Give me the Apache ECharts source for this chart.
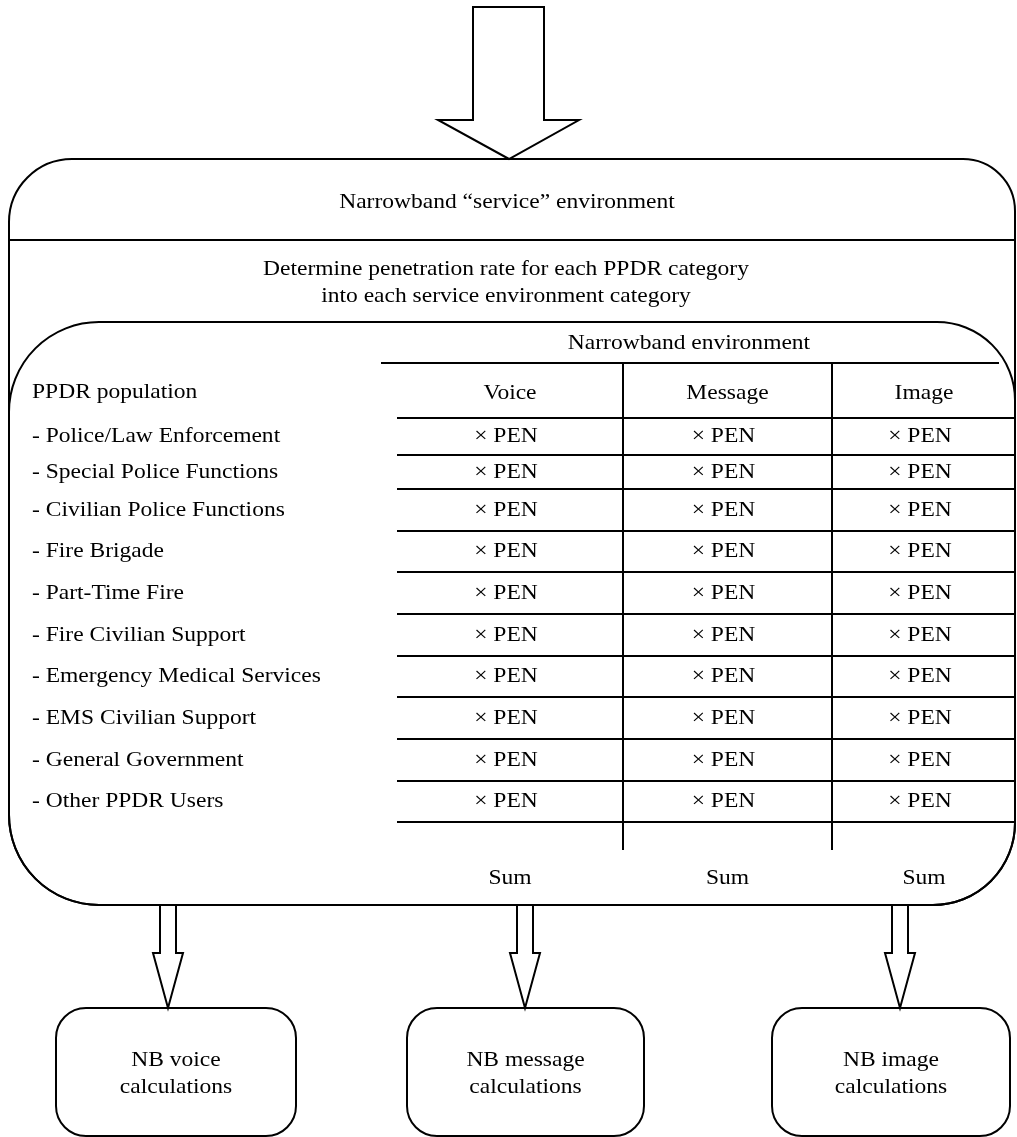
<!DOCTYPE html>
<html>
<head>
<meta charset="utf-8">
<script src="https://cdn.jsdelivr.net/npm/echarts@6/dist/echarts.min.js"></script>
<style>
  html, body { margin: 0; padding: 0; background: #fff; }
  #chart { width: 1017px; height: 1137px; }
</style>
</head>
<body>
<div id="chart"></div>
<script>
// diagram content
const titleText = "Narrowband \u201cservice\u201d environment";
const stepText = ["Determine penetration rate for each PPDR category", "into each service environment category"];
const tableTitle = "Narrowband environment";
const populationTitle = "PPDR population";
const populationLabels = [
  "- Police/Law Enforcement",
  "- Special Police Functions",
  "- Civilian Police Functions",
  "- Fire Brigade",
  "- Part-Time Fire",
  "- Fire Civilian Support",
  "- Emergency Medical Services",
  "- EMS Civilian Support",
  "- General Government",
  "- Other PPDR Users"
];
const serviceColumns = ["Voice", "Message", "Image"];
const cellText = "\u00d7 PEN";
const sumText = "Sum";
const outputLabels = [
  ["NB voice", "calculations"],
  ["NB message", "calculations"],
  ["NB image", "calculations"]
];

// layout (pixels)
const colEdges = [397, 623, 832, 1016];
const rowLines = [418, 455, 489, 531, 572, 614, 656, 697, 739, 781, 822];
const arrowX = [168, 525, 900];
const boxX = [[56, 296], [407, 644], [772, 1010]];

const FONT = '21px "Liberation Serif", "Times New Roman", serif';
const SX = 1.12; // text in the reference is a bit stretched sideways
const stroke = { stroke: "#000", lineWidth: 2, fill: null };

function label(text, x, y, align) {
  return {
    type: "text",
    x: x,
    y: y,
    scaleX: SX,
    style: {
      text: text,
      x: 0,
      y: 0,
      font: FONT,
      fill: "#000",
      textAlign: align || "center",
      textVerticalAlign: "middle"
    }
  };
}
function line(x1, y1, x2, y2) {
  return { type: "line", shape: { x1, y1, x2, y2 }, style: stroke };
}

const elements = [];

// big arrow on top
elements.push({
  type: "polygon",
  shape: { points: [[473, 7], [544, 7], [544, 120], [579, 120], [509, 159], [438, 120], [473, 120]] },
  style: { stroke: "#000", lineWidth: 2, fill: "#fff" }
});

// outer box + header divider
elements.push({
  type: "rect",
  shape: { x: 9, y: 159, width: 1006, height: 746, r: [63, 52, 82, 90] },
  style: stroke
});
elements.push(line(9, 240, 1016, 240));
elements.push(label(titleText, 507, 202));
elements.push(label(stepText[0], 506, 269));
elements.push(label(stepText[1], 506, 296));

// inner box
elements.push({
  type: "rect",
  shape: { x: 9, y: 322, width: 1006, height: 583, r: [90, 78, 82, 90] },
  style: stroke
});

// table
elements.push(label(tableTitle, 689, 343));
elements.push(line(381, 363, 999, 363));
elements.push(line(colEdges[1], 363, colEdges[1], 850));
elements.push(line(colEdges[2], 363, colEdges[2], 850));
rowLines.forEach(function (y) {
  elements.push(line(colEdges[0], y, colEdges[3], y));
});
const colCenter = serviceColumns.map(function (c, i) {
  return (colEdges[i] + colEdges[i + 1]) / 2;
});
elements.push(label(populationTitle, 32, 392, "left"));
serviceColumns.forEach(function (c, i) {
  elements.push(label(c, colCenter[i], 393));
  elements.push(label(sumText, colCenter[i], 878));
});
populationLabels.forEach(function (name, r) {
  const y = (rowLines[r] + rowLines[r + 1]) / 2;
  elements.push(label(name, 32, y, "left"));
  colCenter.forEach(function (cx) {
    elements.push(label(cellText, cx - 4, y));
  });
});

// small arrows + output boxes
arrowX.forEach(function (x, i) {
  elements.push({
    type: "polygon",
    shape: {
      points: [[x - 8, 905], [x + 8, 905], [x + 8, 953], [x + 15, 953], [x, 1008], [x - 15, 953], [x - 8, 953]]
    },
    style: { stroke: "#000", lineWidth: 2, fill: "#fff" }
  });
  const bx = boxX[i];
  elements.push({
    type: "rect",
    shape: { x: bx[0], y: 1008, width: bx[1] - bx[0], height: 128, r: 30 },
    style: stroke
  });
  const cx = (bx[0] + bx[1]) / 2;
  elements.push(label(outputLabels[i][0], cx, 1060));
  elements.push(label(outputLabels[i][1], cx, 1087));
});

const chart = echarts.init(document.getElementById("chart"));
chart.setOption({
  backgroundColor: "#fff",
  animation: false,
  graphic: { elements: elements }
});
</script>
</body>
</html>
